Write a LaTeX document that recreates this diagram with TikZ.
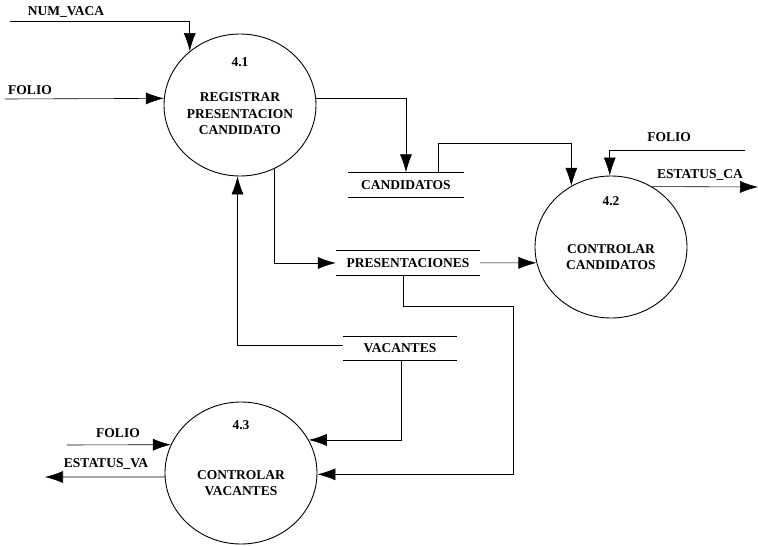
\documentclass[tikz,border=0pt]{standalone}
\usepackage{fontspec}
\setmainfont{Liberation Serif}
\usepackage{tikz}
\usetikzlibrary{arrows.meta,positioning,shapes.geometric}

\tikzset{
  txt/.style={font=\bfseries\fontsize{13.5}{16.5}\selectfont, inner sep=1pt},
  proc/.style={ellipse, draw, line width=0.9pt, minimum width=152pt, minimum height=142pt, inner sep=0pt},
  store/.style={txt, minimum height=25pt},
  flow/.style={line width=0.6pt, -{Latex[length=18pt,width=12pt]}},
  line/.style={line width=0.6pt}
}

\begin{document}
\begin{tikzpicture}[x=1pt, y=-1pt]
  \useasboundingbox (0,0) rectangle (758,546);

  % Processes
  \node[proc] (p41) at (240,105) {};
  \node[txt] (n41) at ([yshift=43pt]p41.center) {4.1};
  \node[txt, align=center] (t41) at ([yshift=-9pt]p41.center) {REGISTRAR\\PRESENTACION\\CANDIDATO};

  \node[proc] (p42) at (611,247) {};
  \node[txt] (n42) at ([yshift=46pt]p42.center) {4.2};
  \node[txt, align=center] (t42) at ([yshift=-10pt]p42.center) {CONTROLAR\\CANDIDATOS};

  \node[proc] (p43) at (241,473) {};
  \node[txt] (n43) at ([yshift=48pt]p43.center) {4.3};
  \node[txt, align=center] (t43) at ([yshift=-10pt]p43.center) {CONTROLAR\\VACANTES};

  % Stores
  \node[store, minimum width=115pt] (cand) at (406,185) {CANDIDATOS};
  \node[store, minimum width=144pt] (pres) at (408,263) {PRESENTACIONES};
  \node[store, minimum width=114pt, minimum height=24pt] (vac) at (400,348) {VACANTES};
  \foreach \s in {cand,pres,vac}
    \draw[line] (\s.north west) -- (\s.north east) (\s.south west) -- (\s.south east);

  % Free ends
  \coordinate (nv) at (10,21);
  \coordinate (f1) at (5,99);
  \coordinate (f2) at (745,150);
  \coordinate (eca) at (758,187);
  \coordinate (f3) at (67,445);
  \coordinate (eva) at (45,477);

  % Labels
  \node[txt] (lnv) at (66,12) {NUM\_VACA};
  \node[txt] (lf1) at (30,90) {FOLIO};
  \node[txt] (lf2) at (669,137) {FOLIO};
  \node[txt] (leca) at (700,175) {ESTATUS\_CA};
  \node[txt] (lf3) at (118,433) {FOLIO};
  \node[txt] (leva) at (106,464) {ESTATUS\_VA};

  % Edges
  \draw[flow] (nv) -| (p41.133);
  \draw[flow] (f1) -- (p41.175);
  \draw[flow] (p41.5) -| (cand);
  \draw[flow] ([xshift=32pt]cand.north) -- ++(0,-29) -| (p42.123);
  \draw[flow] (f2) -| (p42.91);
  \draw[flow] (p42.56) -- (eca);
  \draw[flow] (p41.298) |- (pres);
  \draw[flow] (pres) -- (p42.192);
  \draw[flow] ([xshift=-5pt]pres.south) -- ++(0,31) -- ++(110,0) |- (p43.359);
  \draw[flow] ([xshift=1pt]vac.south) |- (p43.26);
  \draw[flow] ([yshift=3pt]vac.west) -| (p41.268);
  \draw[flow] (f3) -- (p43.158);
  \draw[flow] (p43.183) -- (eva);
\end{tikzpicture}
\end{document}
